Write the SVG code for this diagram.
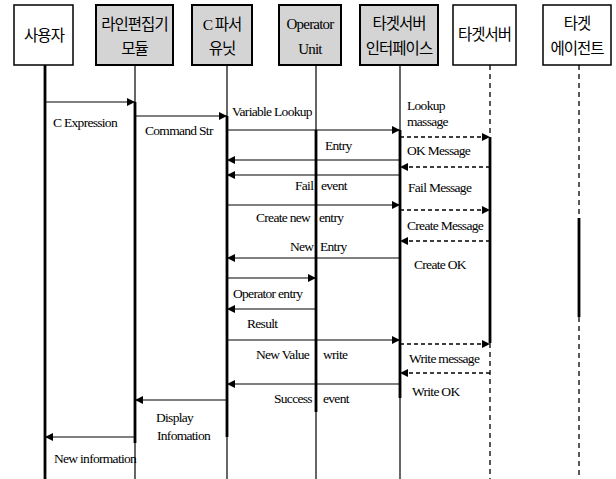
<svg xmlns="http://www.w3.org/2000/svg" width="616" height="479" viewBox="0 0 616 479">
<style>
.bg{fill:#ffffff}
.boxw{fill:#ffffff;stroke:#000;stroke-width:1.5}
.boxg{fill:#d4d4d4;stroke:#000;stroke-width:2}
.kr{font-family:"Noto Sans CJK KR","Noto Sans",sans-serif;font-size:15.5px;fill:#000;text-anchor:middle;letter-spacing:-1px}
.en{font-family:"Liberation Serif",serif;font-size:15px;fill:#000;text-anchor:middle;letter-spacing:-0.8px}
.lbl{font-family:"Liberation Serif",serif;font-size:13.5px;fill:#000;letter-spacing:-0.7px}
.life{stroke:#000;stroke-width:1.2;fill:none}
.act{stroke:#000;stroke-width:2.8;fill:none}
.dlife{stroke:#000;stroke-width:1.3;stroke-dasharray:5,4;fill:none}
.msg{stroke:#000;stroke-width:1.2;fill:none;marker-end:url(#ah)}
.dmsg{stroke:#000;stroke-width:1.6;stroke-dasharray:4,3;fill:none;marker-end:url(#ah)}
</style>
<defs>
<marker id="ah" viewBox="0 0 10 10" refX="10" refY="5" markerWidth="9" markerHeight="8" markerUnits="userSpaceOnUse" orient="auto">
<path d="M0,0 L10,5 L0,10 z" fill="#000"/>
</marker>
</defs>
<rect class="bg" x="0" y="0" width="616" height="479"/>

<g id="node-user">
<rect class="boxw" x="14" y="5" width="59" height="60"/>
<text class="kr" x="44" y="41">사용자</text>
<line class="act" x1="45" y1="65" x2="45" y2="479"/>
</g>
<g id="node-lineeditor">
<rect class="boxg" x="96" y="5" width="77" height="60"/>
<text class="kr" x="134.5" y="30">라인편집기</text>
<text class="kr" x="134.5" y="54">모듈</text>
<line class="life" x1="135" y1="65" x2="135" y2="102"/>
<line class="act" x1="135" y1="102" x2="135" y2="443"/>
<line class="life" x1="135" y1="443" x2="135" y2="479"/>
</g>
<g id="node-cparser">
<rect class="boxg" x="192" y="5" width="60" height="60"/>
<text class="kr" x="222" y="30"><tspan font-family="Liberation Serif, serif">C</tspan> 파서</text>
<text class="kr" x="222" y="54">유닛</text>
<line class="life" x1="227" y1="65" x2="227" y2="116"/>
<line class="act" x1="227" y1="116" x2="227" y2="437"/>
<line class="life" x1="227" y1="437" x2="227" y2="479"/>
</g>
<g id="node-operator">
<rect class="boxg" x="279" y="5" width="62" height="60"/>
<text class="en" x="310" y="29">Operator</text>
<text class="en" x="310" y="54">Unit</text>
<line class="life" x1="316" y1="65" x2="316" y2="130"/>
<line class="act" x1="316" y1="130" x2="316" y2="412"/>
<line class="life" x1="316" y1="412" x2="316" y2="479"/>
</g>
<g id="node-tsinterface">
<rect class="boxg" x="360" y="5" width="78" height="60"/>
<text class="kr" x="399" y="29">타겟서버</text>
<text class="kr" x="399" y="54">인터페이스</text>
<line class="life" x1="400" y1="65" x2="400" y2="130"/>
<line class="act" x1="400" y1="130" x2="400" y2="398"/>
<line class="life" x1="400" y1="398" x2="400" y2="479"/>
</g>
<g id="node-targetserver">
<rect class="boxw" x="453" y="5" width="63" height="60"/>
<text class="kr" x="484.5" y="40">타겟서버</text>
<line class="dlife" x1="490" y1="65" x2="490" y2="137"/>
<line class="act" x1="490" y1="137" x2="490" y2="343"/>
<line class="dlife" x1="490" y1="343" x2="490" y2="479"/>
</g>
<g id="node-targetagent">
<rect class="boxw" x="543" y="5" width="68" height="60"/>
<text class="kr" x="577" y="29">타겟</text>
<text class="kr" x="577" y="54">에이전트</text>
<line class="dlife" x1="579" y1="65" x2="579" y2="218"/>
<line class="act" x1="579" y1="218" x2="579" y2="317"/>
<line class="dlife" x1="579" y1="317" x2="579" y2="479"/>
</g>

<g id="connectors">
<line class="msg" x1="45" y1="102" x2="135" y2="102"/>
<line class="msg" x1="135" y1="116" x2="227" y2="116"/>
<line class="msg" x1="227" y1="130" x2="400" y2="130"/>
<line class="dmsg" x1="400" y1="137" x2="490" y2="137"/>
<line class="msg" x1="400" y1="160" x2="227" y2="160"/>
<line class="dmsg" x1="490" y1="167" x2="400" y2="167"/>
<line class="msg" x1="400" y1="175" x2="227" y2="175"/>
<line class="msg" x1="227" y1="205" x2="400" y2="205"/>
<line class="dmsg" x1="400" y1="210" x2="490" y2="210"/>
<line class="dmsg" x1="490" y1="241" x2="400" y2="241"/>
<line class="msg" x1="400" y1="258" x2="227" y2="258"/>
<line class="msg" x1="227" y1="278" x2="316" y2="278"/>
<line class="msg" x1="316" y1="309" x2="227" y2="309"/>
<line class="msg" x1="227" y1="340" x2="400" y2="340"/>
<line class="dmsg" x1="400" y1="344" x2="490" y2="344"/>
<line class="dmsg" x1="490" y1="373" x2="400" y2="373"/>
<line class="msg" x1="400" y1="384" x2="227" y2="384"/>
<line class="msg" x1="227" y1="400" x2="135" y2="400"/>
<line class="msg" x1="135" y1="437" x2="45" y2="437"/>
</g>

<g id="labels">
<text class="lbl" x="53" y="127">C Expression</text>
<text class="lbl" x="145" y="135">Command Str</text>
<text class="lbl" x="232" y="116">Variable Lookup</text>
<text class="lbl" x="407" y="110">Lookup</text>
<text class="lbl" x="407" y="126">massage</text>
<text class="lbl" x="325" y="150">Entry</text>
<text class="lbl" x="407" y="155">OK Message</text>
<text class="lbl"><tspan x="295" y="190">Fail</tspan><tspan x="321" y="190">event</tspan></text>
<text class="lbl" x="408" y="192">Fail Message</text>
<text class="lbl"><tspan x="256" y="222">Create new</tspan><tspan x="319" y="222">entry</tspan></text>
<text class="lbl" x="407" y="230">Create Message</text>
<text class="lbl"><tspan x="290" y="251">New</tspan><tspan x="320" y="251">Entry</tspan></text>
<text class="lbl" x="414" y="269">Create OK</text>
<text class="lbl" x="233" y="298">Operator entry</text>
<text class="lbl" x="247" y="328">Result</text>
<text class="lbl"><tspan x="256" y="359">New Value</tspan><tspan x="323" y="359">write</tspan></text>
<text class="lbl" x="409" y="363">Write message</text>
<text class="lbl" x="412" y="396">Write OK</text>
<text class="lbl"><tspan x="274" y="403">Success</tspan><tspan x="323" y="403">event</tspan></text>
<text class="lbl" x="156" y="422">Display</text>
<text class="lbl" x="157" y="440">Infomation</text>
<text class="lbl" x="54" y="463">New information</text>
</g>
</svg>
